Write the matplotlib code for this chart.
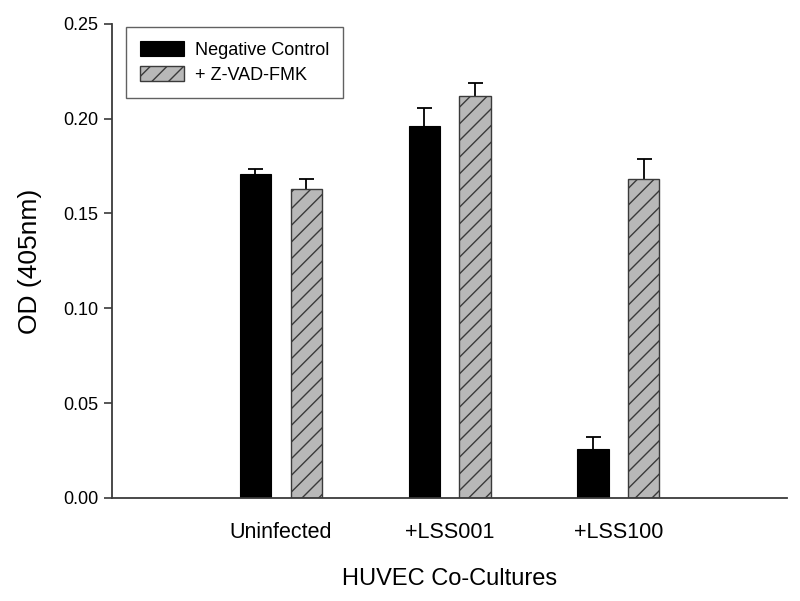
import matplotlib
matplotlib.use("Agg")
import matplotlib.pyplot as plt
import numpy as np

plt.rcParams['font.family'] = ['Liberation Sans', 'DejaVu Sans']
plt.rcParams['hatch.linewidth'] = 1.0

categories = ["Uninfected", "+LSS001", "+LSS100"]
neg_control = [0.171, 0.196, 0.026]
neg_control_err = [0.0026, 0.0097, 0.0061]
zvad = [0.163, 0.212, 0.168]
zvad_err = [0.0050, 0.0066, 0.0107]
series_labels = ["Negative Control", "+ Z-VAD-FMK"]
yticks = [0.00, 0.05, 0.10, 0.15, 0.20, 0.25]

fig = plt.figure(figsize=(8, 6.01), dpi=100)
ax = fig.add_axes([0.14, 0.1714, 0.844, 0.789])

x = np.arange(1, len(categories) + 1)
w = 0.185
off = 0.15
spine_col = '#3a3a3a'

ax.bar(x - off, neg_control, w, color='black', edgecolor='black', linewidth=0.8,
       label=series_labels[0], zorder=2)
ax.bar(x + off, zvad, w, color='#b8b8b8', edgecolor='#3a3a3a', linewidth=1.0, hatch='//',
       label=series_labels[1], zorder=2)

for xs, vals, errs in [(x - off, neg_control, neg_control_err), (x + off, zvad, zvad_err)]:
    _, caps, _ = ax.errorbar(xs, vals, yerr=[np.zeros(len(vals)), errs], fmt='none',
                             ecolor='black', elinewidth=1.3, capsize=5.4, capthick=1.3,
                             zorder=1)
    # hide the lower caps (one-sided error bars)
    caps[0].set_visible(False)

ax.set_xlim(0, 4)
ax.set_ylim(0, 0.25)
ax.set_yticks(yticks)
ax.set_yticklabels([f"{v:.2f}" for v in yticks], fontsize=13)
ax.set_xticks(x)
ax.set_xticklabels(categories, fontsize=15.5)
ax.tick_params(axis='x', length=0, pad=17)
ax.tick_params(axis='y', direction='out', length=6, width=1.2, color=spine_col, pad=4)

for s in ['top', 'right']:
    ax.spines[s].set_visible(False)
for s in ['left', 'bottom']:
    ax.spines[s].set_color(spine_col)
    ax.spines[s].set_linewidth(1.3)

ax.set_xlabel("HUVEC Co-Cultures", fontsize=17, labelpad=18)
ax.set_ylabel("OD (405nm)", fontsize=19, labelpad=15)

leg = ax.legend(loc='upper left', bbox_to_anchor=(0.0207, 0.994), borderaxespad=0,
                fontsize=13, frameon=True, fancybox=False, edgecolor=spine_col,
                handlelength=2.4, handleheight=0.9, labelspacing=0.4,
                borderpad=0.8, handletextpad=0.6)
leg.get_frame().set_linewidth(1.0)

fig.savefig("out.png", dpi=100)
